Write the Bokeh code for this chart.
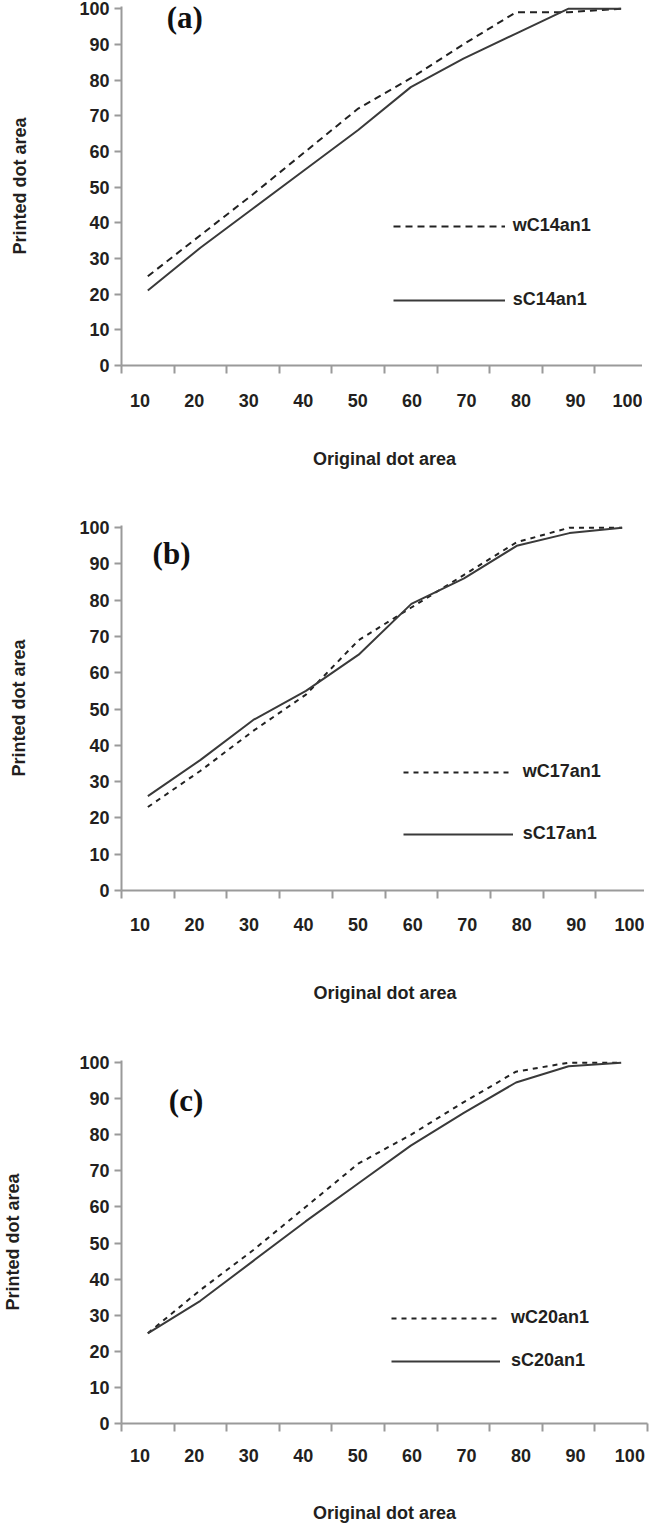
from bokeh.plotting import figure
from bokeh.models import (Range1d, LinearAxis, FixedTicker, CustomJSTickFormatter,
                          Legend, LegendItem, Label, ColumnDataSource)
from bokeh.layouts import column
from bokeh.embed import file_html
from bokeh.resources import INLINE

# ---- data -------------------------------------------------------------
categories = ["10", "20", "30", "40", "50", "60", "70", "80", "90", "100"]
y_ticks = [0, 10, 20, 30, 40, 50, 60, 70, 80, 90, 100]

wC14an1 = [25, 36.5, 48, 60, 72, 80.5, 90, 99, 99, 100]
sC14an1 = [21, 33, 44, 55, 66, 78, 86, 93, 100, 100]

wC17an1 = [23, 33, 44, 54, 69, 78, 87, 96, 100, 100]
sC17an1 = [26, 36, 47, 55, 65, 79, 86, 95, 98.5, 100]

wC20an1 = [25, 37, 48, 60, 72, 80, 89, 97.5, 100, 100]
sC20an1 = [25, 34, 45, 56, 66.5, 77, 86, 94.5, 99, 100]

panel_tags = ["(a)", "(b)", "(c)"]
x_title = "Original dot area"
y_title = "Printed dot area"

FONT = "Liberation Sans"
TXT = "#231f20"
AX = "#9a9a9a"


def make_panel(tag, w_vals, s_vals, w_name, s_name, cfg):
    n = len(categories)
    xs = [i + 0.5 for i in range(n)]
    src = ColumnDataSource(dict(x=xs, w=w_vals, s=s_vals))

    p = figure(frame_width=cfg["fw"], frame_height=cfg["fh"],
               x_range=Range1d(0, n), y_range=Range1d(0, 100.6),
               output_backend="svg", toolbar_location=None,
               x_axis_type=None,
               min_border_left=cfg["bl"], min_border_right=2,
               min_border_top=cfg["bt"], min_border_bottom=cfg["bb"])
    p.grid.visible = False
    p.outline_line_color = None
    p.background_fill_color = "white"
    p.border_fill_color = "white"

    # y axis
    ya = p.yaxis[0]
    ya.ticker = FixedTicker(ticks=y_ticks)
    ya.axis_line_color = AX
    ya.axis_line_width = 2
    ya.major_tick_line_color = AX
    ya.major_tick_line_width = 2
    ya.major_tick_out = 7
    ya.major_tick_in = 0
    ya.minor_tick_line_color = None
    ya.major_label_standoff = 5
    ya.major_label_text_font = FONT
    ya.major_label_text_font_style = "bold"
    ya.major_label_text_font_size = "18px"
    ya.major_label_text_color = TXT
    ya.axis_label = y_title
    ya.axis_label_text_font = FONT
    ya.axis_label_text_font_style = "bold"
    ya.axis_label_text_font_size = "18px"
    ya.axis_label_text_color = TXT
    ya.axis_label_standoff = cfg["ylab"]

    # x axis 1: ticks at category boundaries
    xa1 = LinearAxis(ticker=FixedTicker(ticks=list(range(n + 1))),
                     formatter=CustomJSTickFormatter(code="return ''"))
    xa1.axis_line_color = AX
    xa1.axis_line_width = 2
    xa1.major_tick_line_color = AX
    xa1.major_tick_line_width = 2
    xa1.major_tick_out = 8
    xa1.major_tick_in = 0
    xa1.minor_tick_line_color = None
    xa1.major_label_standoff = 0
    xa1.major_label_text_font_size = "0px"
    p.add_layout(xa1, "below")

    # x axis 2: category labels
    lab_ticks = [round(0.35 + 1.035 * i, 3) for i in range(n)]
    xa2 = LinearAxis(ticker=FixedTicker(ticks=lab_ticks),
                     formatter=CustomJSTickFormatter(args=dict(labels=categories),
                                                     code="return labels[index]"))
    xa2.axis_line_color = None
    xa2.major_tick_line_color = None
    xa2.major_tick_out = 0
    xa2.major_tick_in = 0
    xa2.minor_tick_line_color = None
    xa2.major_label_standoff = cfg["xs"]
    xa2.major_label_text_font = FONT
    xa2.major_label_text_font_style = "bold"
    xa2.major_label_text_font_size = "18px"
    xa2.major_label_text_color = TXT
    xa2.axis_label = x_title
    xa2.axis_label_text_font = FONT
    xa2.axis_label_text_font_style = "bold"
    xa2.axis_label_text_font_size = "18px"
    xa2.axis_label_text_color = TXT
    xa2.axis_label_standoff = cfg["xlab"]
    p.add_layout(xa2, "below")

    rw = p.line("x", "w", source=src, line_color="#222222", line_width=2,
                line_dash=cfg["dash"])
    rs = p.line("x", "s", source=src, line_color="#3a3a3a", line_width=2)

    leg = Legend(items=[LegendItem(label=w_name, renderers=[rw]),
                        LegendItem(label=s_name, renderers=[rs])],
                 location=cfg["leg_loc"], orientation="vertical",
                 spacing=cfg["leg_sp"], padding=0, margin=0,
                 glyph_width=cfg["gw"], glyph_height=20, label_height=20,
                 label_standoff=cfg["ls"],
                 border_line_color=None, background_fill_alpha=0,
                 label_text_font=FONT, label_text_font_style="bold",
                 label_text_font_size="18px", label_text_color=TXT)
    p.add_layout(leg, "center")

    p.add_layout(Label(x=cfg["tag_x"], y=cfg["tag_y"], text=tag,
                       text_font="Liberation Serif", text_font_style="bold",
                       text_font_size="31px", text_color="#111111",
                       text_baseline="middle", text_align="left"))
    return p


cfg_a = dict(fw=526, fh=359, bl=114, bt=6, bb=127, ylab=46, xs=20, xlab=39,
             dash="7 5", leg_loc=(278, 55), leg_sp=53, gw=112, ls=8,
             tag_x=0.86, tag_y=97.5)
cfg_b = dict(fw=527, fh=365, bl=115, bt=33, bb=122, ylab=47, xs=19, xlab=49,
             dash="5 5", leg_loc=(287, 46), leg_sp=41, gw=110, ls=10,
             tag_x=0.59, tag_y=93)
cfg_c = dict(fw=526, fh=363, bl=121, bt=48, bb=105, ylab=53, xs=17, xlab=38,
             dash="5 5", leg_loc=(270, 52), leg_sp=22, gw=109, ls=11,
             tag_x=0.9, tag_y=89.5)

pa = make_panel(panel_tags[0], wC14an1, sC14an1, "wC14an1", "sC14an1", cfg_a)
pb = make_panel(panel_tags[1], wC17an1, sC17an1, "wC17an1", "sC17an1", cfg_b)
pc = make_panel(panel_tags[2], wC20an1, sC20an1, "wC20an1", "sC20an1", cfg_c)

layout = column(pa, pb, pc, spacing=0)
html = file_html(layout, INLINE)
html = html.replace("</head>", "<style>html,body{overflow:hidden;}</style></head>", 1)
open("out.html", "w").write(html)
